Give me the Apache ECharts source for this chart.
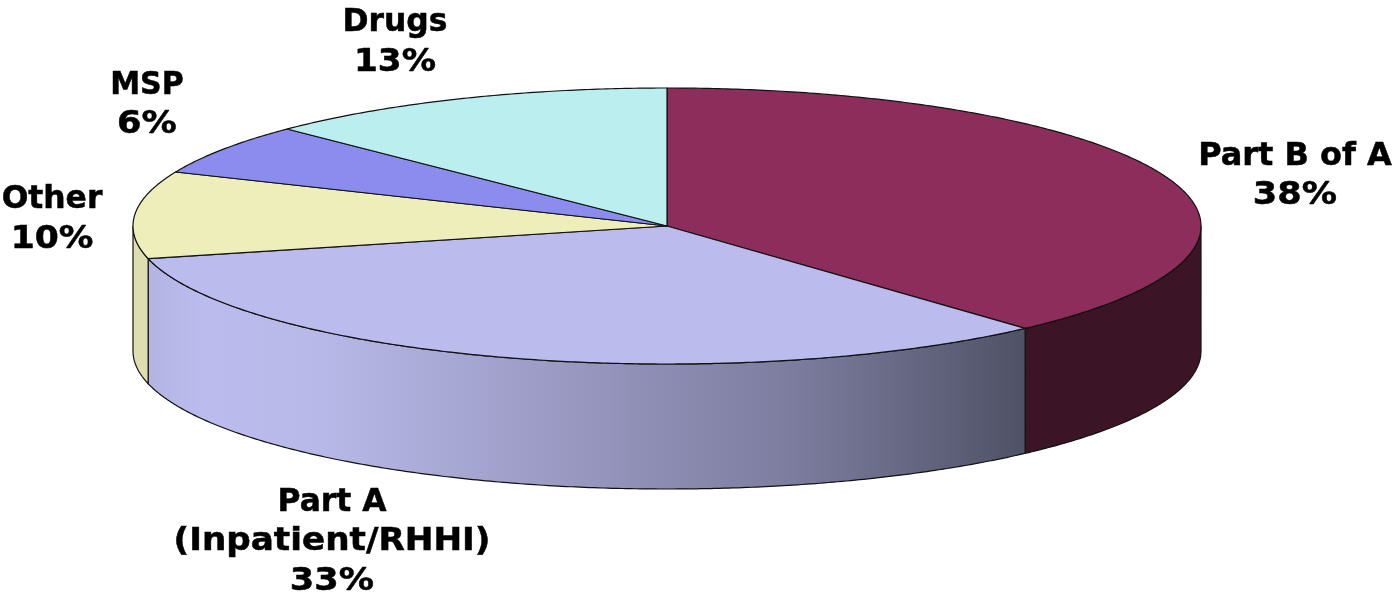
<!DOCTYPE html>
<html>
<head>
<meta charset="utf-8">
<style>html,body{margin:0;padding:0;background:#fff}#c{width:1392px;height:596px}</style>
<script src="https://cdn.jsdelivr.net/npm/echarts@6/dist/echarts.min.js"></script>
</head>
<body>
<div id="c"></div>
<script>
const categories = ['Part B of A', 'Part A\n(Inpatient/RHHI)', 'Other', 'MSP', 'Drugs'];
const shares = [38.3, 32.9, 10.2, 6.0, 12.6];
const percentLabels = ['38%', '33%', '10%', '6%', '13%'];

const topColors = ['#8C2D5C', '#BBBBEE', '#EEEEBB', '#8C8CEE', '#BBEEEE'];
const labelCentres = [[1295, 176], [332, 542], [52, 219.5], [147, 105], [395, 42.5]];
// horizontal stretch per text line, to approach the wider letterforms of the reference face
const lineStretch = [[1.0, 1.1], [0.98, 1.07, 1.1], [0.98, 1.08], [0.94, 1.1], [0.98, 1.07]];
const LINE_HEIGHT = 39.5;
const PIE = { cx: 667, cy: 226, rx: 534, ry: 138, depth: 125 };
const total = shares.reduce((a, b) => a + b, 0);

function rimPoint(deg, drop) {
  const t = deg * Math.PI / 180;
  return [PIE.cx + PIE.rx * Math.sin(t), PIE.cy - PIE.ry * Math.cos(t) + drop];
}
function arc(from, to, drop) {
  const pts = [];
  const n = Math.max(2, Math.ceil(Math.abs(to - from) * 2));
  for (let i = 0; i <= n; i++) pts.push(rimPoint(from + (to - from) * i / n, drop));
  return pts;
}
function sideFill(i) {
  if (i === 0) return '#3B1426';
  if (i === 2) return '#DEDEB0';
  return new echarts.graphic.LinearGradient(0, 0, 1, 0, [
    { offset: 0, color: '#B4B4E2' },
    { offset: 0.06, color: '#BBBBEE' },
    { offset: 0.2, color: '#B8B8E8' },
    { offset: 0.45, color: '#9C9CC6' },
    { offset: 0.75, color: '#7A7B9C' },
    { offset: 1, color: '#4F5166' }
  ]);
}
function renderItem(params, api) {
  const i = params.dataIndex;
  const before = shares.slice(0, i).reduce((a, b) => a + b, 0);
  const start = before / total * 360;
  const end = start + api.value(0) / total * 360;
  const children = [];
  const a = Math.max(start, 90), b = Math.min(end, 270);
  if (b > a) {
    children.push({
      type: 'polygon',
      shape: { points: arc(a, b, 0).concat(arc(b, a, PIE.depth)) },
      style: { fill: sideFill(i), stroke: '#111', lineWidth: 1.2 }
    });
  }
  children.push({
    type: 'polygon',
    shape: { points: [[PIE.cx, PIE.cy]].concat(arc(start, end, 0)) },
    style: { fill: topColors[i], stroke: '#111', lineWidth: 1.2, lineJoin: 'round' }
  });
  return { type: 'group', children };
}
function renderLabel(params) {
  const i = params.dataIndex;
  const lines = (categories[i] + '\n' + percentLabels[i]).split('\n');
  return {
    type: 'group',
    children: lines.map((line, j) => ({
      type: 'text',
      x: labelCentres[i][0],
      y: labelCentres[i][1] + (j - (lines.length - 1) / 2) * LINE_HEIGHT,
      scaleX: lineStretch[i][j],
      style: {
        text: line, x: 0, y: 0,
        align: 'center', verticalAlign: 'middle',
        fontFamily: 'DejaVu Sans', fontWeight: 'bold', fontSize: 32,
        fill: '#000', stroke: '#000', lineWidth: 0.5
      }
    }))
  };
}
const chart = echarts.init(document.getElementById('c'), null, { renderer: 'canvas' });
chart.setOption({
  animation: false,
  backgroundColor: '#fff',
  series: [
    { type: 'custom', coordinateSystem: 'none', silent: true, renderItem, data: shares.map(v => [v]) },
    { type: 'custom', coordinateSystem: 'none', silent: true, renderItem: renderLabel, data: shares.map(v => [v]), z: 5 }
  ]
});
</script>
</body>
</html>
